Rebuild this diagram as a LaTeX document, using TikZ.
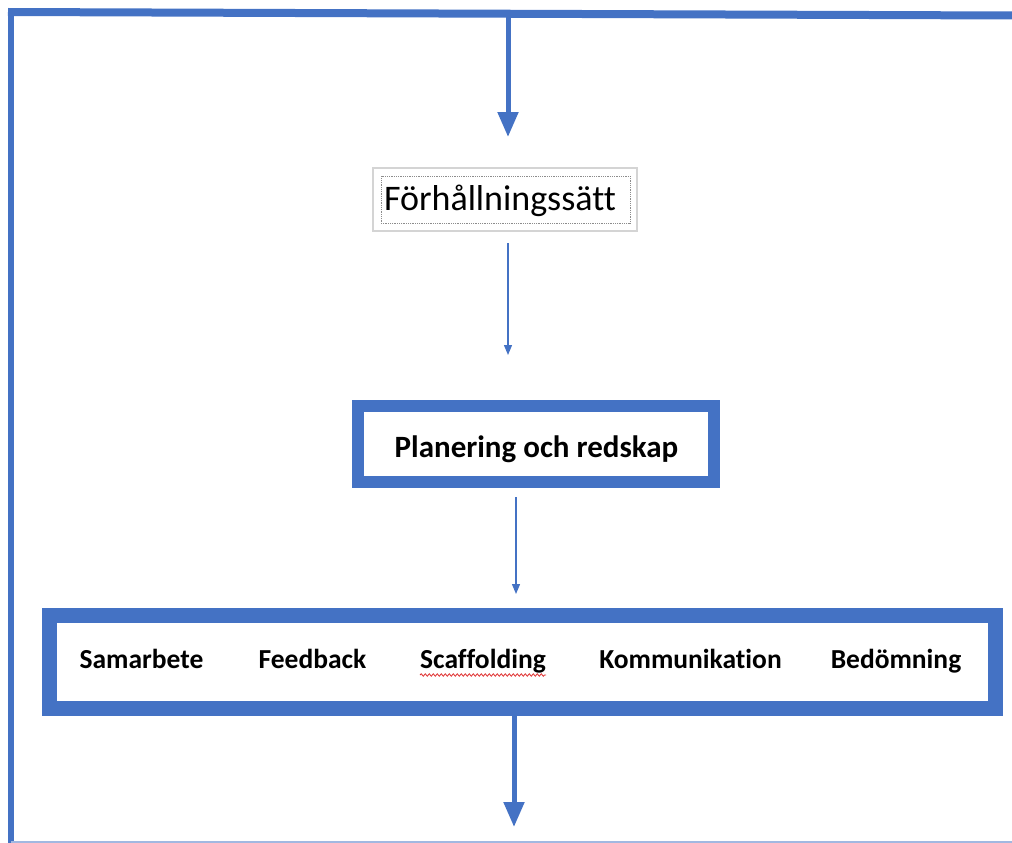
\documentclass[tikz,border=0pt]{standalone}
\usepackage{fontspec}
\setmainfont{Carlito}[Ligatures=NoCommon]
\usetikzlibrary{arrows.meta,decorations.pathmorphing}
\definecolor{wblue}{HTML}{4472C4}
\definecolor{lgray}{HTML}{D4D4D4}
\definecolor{dgray}{HTML}{8C8C8C}
\definecolor{wred}{HTML}{E03030}
\tikzset{
  frame/.style={draw=wblue, line width=#1},
  bigarrow/.style={draw=wblue, line width=5pt, -{Triangle[width=20pt,length=25pt]}},
  thinarrow/.style={draw=wblue, line width=1.3pt, -{Triangle[width=8pt,length=10pt]}},
  bluebox/.style={draw=wblue, line width=#1, fill=white, inner sep=0pt},
  lbl/.style={font=\fontsize{27.5}{30}\selectfont\bfseries, inner sep=0pt, anchor=base}
}
\begin{document}
\begin{tikzpicture}[x=1pt,y=-1pt]
\useasboundingbox (0,0) rectangle (1012,843);
% outer frame
\draw[frame=8pt] (1012,15.5) -- (8,12);
\draw[frame=5.5pt] (11,9) -- (11,843);
\draw[draw=wblue!50, line width=2pt] (11,841.5) -- (1012,841.5);
% top arrow
\coordinate (top) at (508,13);
\coordinate (t1) at (508,137);
\draw[bigarrow] (top) -- (t1);
% Förhållningssätt
\node[draw=lgray, line width=1.2pt, minimum width=264pt, minimum height=63pt] (f) at (505,199.5) {};
\node[draw=dgray, densely dotted, line width=0.8pt, minimum width=249pt, minimum height=47pt, inner sep=0pt] (fd) at (505.5,199.5) {};
\node[font=\fontsize{36}{40}\selectfont, inner sep=0pt, anchor=base] (ftext) at (500,210) {Förhållningssätt};
\coordinate (a1s) at (508,243);
\coordinate (a1e) at (508,355);
\draw[thinarrow] (a1s) -- (a1e);
% Planering
\node[bluebox=12pt, minimum width=355.5pt, minimum height=76pt] (p) at (536,444) {};
\node[font=\fontsize{31}{34}\selectfont\bfseries, inner sep=0pt, anchor=base] (ptext) at (536.5,457) {Planering och redskap};
\coordinate (a2s) at (516,497);
\coordinate (a2e) at (516,594);
\draw[thinarrow] (a2s) -- (a2e);
% bottom box
\node[bluebox=15pt, minimum width=946.5pt, minimum height=93.5pt] (b) at (522.25,661.75) {};
\node[lbl] (s1) at (141.5,668) {Samarbete};
\node[lbl] (s2) at (312.5,668) {Feedback};
\node[lbl] (s3) at (483,668) {Scaffolding};
\node[lbl] (s4) at (690.5,668) {Kommunikation};
\node[lbl] (s5) at (896,668) {Bedömning};
\draw[wred, line width=0.8pt, decorate, decoration={snake, amplitude=1.2pt, segment length=4pt}]
  ([yshift=-7pt]s3.base west) -- ([yshift=-7pt]s3.base east);
% bottom arrow
\coordinate (bs) at (514,716);
\coordinate (be) at (514,827);
\draw[bigarrow] (bs) -- (be);
\end{tikzpicture}
\end{document}
